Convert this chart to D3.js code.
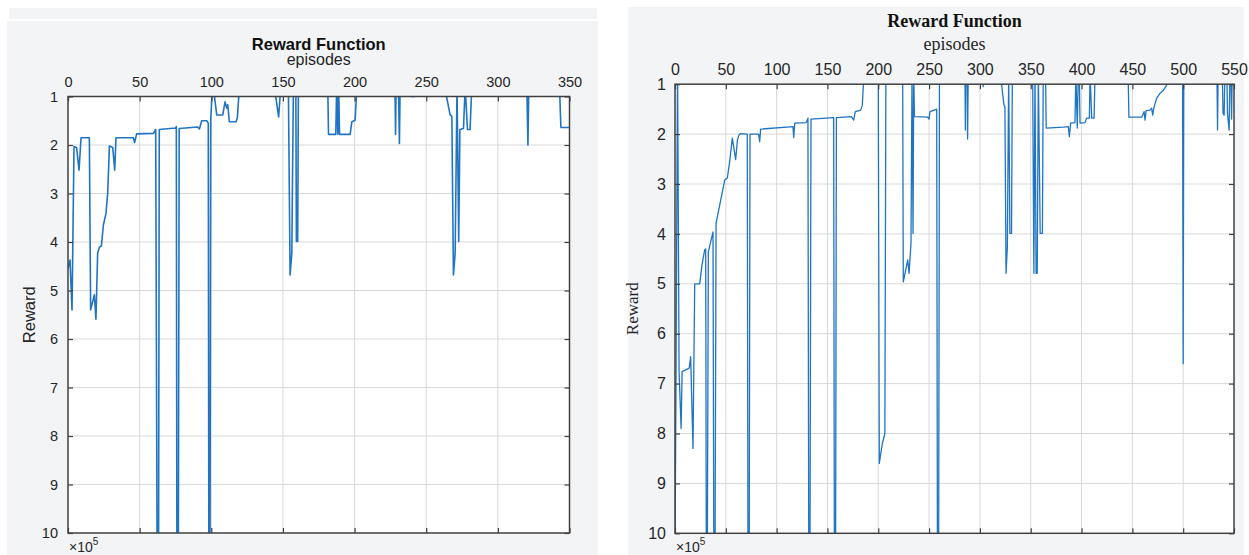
<!DOCTYPE html>
<html lang="en">

<head>
    <meta charset="utf-8">
    <title>Reward Function</title>
    <script type="text/javascript" src="https://d3js.org/d3.v7.min.js"></script>
    <style>
        body {
            margin: 0;
            background: white;
        }

        .tick text {
            fill: #262626;
        }
    </style>
</head>

<body>
    <div id="charts"></div>
    <script type="text/javascript">
        const width = 1249;
        const height = 555;

        // reward data, [episode, reward (x1e5)]
        const leftSeries = [
            [0, 4.54], [1.4, 4.37], [2.8, 5.40], [4.2, 2.03], [6.0, 2.05], [7.7, 2.52], [9.1, 1.85],
            [14.9, 1.85], [15.8, 5.40], [18.4, 5.09], [19.5, 5.59], [20.7, 4.23], [21.9, 4.11],
            [23.3, 4.08], [24.7, 3.65], [26.5, 3.41], [27.7, 3.0], [28.9, 2.02], [31.2, 2.05],
            [32.6, 2.52], [33.5, 1.85], [45.6, 1.85], [46.5, 1.95], [47.9, 1.77], [59.6, 1.76],
            [61.2, 1.68], [62.2, 10.5], [63.2, 10.5], [63.7, 1.68], [75.2, 1.65], [75.6, 1.62],
            [76.0, 10.5], [77.0, 10.5], [77.6, 1.66], [90.5, 1.63], [91.7, 1.67], [93.3, 1.50],
            [96.8, 1.50], [97.9, 1.55], [98.3, 10.5], [99.1, 10.5], [99.6, 1.48], [100.8, 0.8],
            [101.4, 0.8], [103.8, 1.38], [108, 1.38], [109.6, 1.11], [110.8, 1.24], [111.5, 1.17],
            [112.6, 1.52], [117.3, 1.52], [118.2, 1.44], [119.6, 0.8], [144, 0.8], [147, 1.42],
            [148.5, 0.8], [153.8, 0.8], [155, 4.68], [156.2, 4.23], [157.3, 0.8], [159, 0.8],
            [159.4, 3.99], [160.3, 3.99], [160.8, 0.8], [181.3, 0.8], [181.8, 1.78], [186.9, 1.78],
            [187.5, 0.8], [188.3, 1.78], [188.9, 0.8], [189.5, 1.78], [196.9, 1.78], [198.1, 1.52],
            [200.4, 1.49], [201.6, 0.8], [228.2, 0.8], [228.6, 1.78], [229, 0.8], [230.6, 0.8],
            [231.3, 1.97], [231.8, 0.8], [239, 0.8], [239.5, 1.0], [242, 1.0], [242.5, 0.8],
            [263.5, 0.9], [266.7, 1.38], [267.9, 1.41], [269, 4.68], [270.2, 4.23], [271.5, 0.8],
            [272.7, 3.99], [273.5, 1.68], [276, 1.66], [277.2, 0.8], [278.8, 1.68], [280.6, 1.68],
            [281.8, 0.8], [320.2, 0.8], [321, 2.0], [321.6, 0.8], [343, 0.8], [344, 1.64], [350, 1.64]
        ];

        const rightSeries = [
            [0, 10.5], [1, 6.95], [2.5, 0.5], [4, 6.75], [6, 7.9], [7, 6.76], [14, 6.69], [15.4, 6.46],
            [17.7, 8.30], [19.4, 5.0], [24.3, 5.0], [26.6, 4.62], [29.2, 4.32], [30.2, 4.3],
            [30.8, 10.5], [31.8, 10.5], [32.8, 4.36], [37.4, 3.96], [38.2, 10.5], [39.4, 10.5],
            [40.4, 3.79], [48.9, 2.92], [51.5, 2.88], [53.8, 2.55], [56.4, 2.08], [59.7, 2.51],
            [61.4, 2.12], [63, 2.02], [64.6, 1.99], [71.1, 2.0], [71.8, 10.5], [73, 10.5],
            [73.8, 2.0], [82.3, 2.0], [83.3, 2.15], [84.3, 1.9], [116.1, 1.85], [116.8, 2.07],
            [117.8, 1.78], [129.2, 1.77], [130.8, 1.68], [131.6, 10.5], [132.8, 10.5], [133.8, 1.7],
            [156.1, 1.67], [156.8, 10.5], [158, 10.5], [158.8, 1.67], [173.5, 1.65], [175.8, 1.72],
            [177.4, 1.55], [182.7, 1.52], [184.3, 1.42], [185.6, 0.9], [186, 0.8], [200, 0.8],
            [201, 8.6], [204, 8.2], [206.5, 8.0], [207.5, 0.8], [224, 0.8], [224.6, 4.96],
            [229, 4.52], [230.3, 4.79], [232.2, 4.19], [233.2, 0.8], [234.2, 3.99], [234.9, 0.8],
            [235.6, 1.65], [248.6, 1.66], [249.9, 1.7], [250.9, 1.55], [257.5, 1.5], [258.2, 10.5],
            [259.4, 10.5], [260.2, 0.8], [285.3, 0.8], [285.7, 1.92], [286.1, 0.8], [287.4, 0.8],
            [287.9, 2.1], [288.5, 0.8], [302.8, 0.8], [303.2, 1.05], [303.6, 0.8], [320.7, 0.9],
            [323.7, 1.42], [324.6, 1.45], [325.7, 4.79], [327, 4.26], [328.3, 0.8], [329.5, 3.99],
            [331.1, 3.99], [331.9, 0.8], [351.9, 0.8], [353.1, 4.79], [354.2, 0.8], [355.3, 4.79],
            [356.4, 4.79], [357.5, 0.8], [359.3, 3.99], [361.5, 3.99], [362.3, 0.8], [364.6, 0.8],
            [365.2, 1.88], [382, 1.86], [387, 1.85], [388, 2.05], [389.3, 1.78], [393.5, 1.77],
            [394.4, 0.8], [395.8, 1.88], [396.8, 0.8], [397.8, 0.8], [398.5, 1.78], [403.4, 1.77],
            [405, 1.68], [407.7, 1.68], [408.4, 0.8], [410, 1.68], [412.3, 1.68], [413.3, 0.8],
            [445.8, 0.8], [446.6, 1.66], [459.2, 1.66], [461.5, 1.55], [462.5, 1.72], [463.5, 1.53],
            [467.3, 1.52], [469, 1.48], [470, 1.62], [471.3, 1.46], [474, 1.28], [477.3, 1.18],
            [480.6, 1.12], [483.1, 1.04], [485.4, 0.95], [486, 0.8], [499.4, 0.8], [500, 6.6],
            [500.6, 0.8], [533.2, 0.8], [533.8, 1.92], [534.4, 0.8], [538.5, 0.8], [539.2, 1.58],
            [540.3, 1.62], [541, 0.8], [543, 0.8], [543.6, 1.6], [545.2, 1.92], [546, 0.8],
            [547, 0.8], [547.6, 1.7], [548.2, 0.8]
        ];

        const leftXTicks = [0, 50, 100, 150, 200, 250, 300, 350];
        const rightXTicks = [0, 50, 100, 150, 200, 250, 300, 350, 400, 450, 500, 550];
        const yTicks = [1, 2, 3, 4, 5, 6, 7, 8, 9, 10];

        const svg = d3.select("#charts")
            .append("svg")
            .attr("width", width)
            .attr("height", height);

        function plotReward(cfg) {
            const g = svg.append("g");

            // figure background
            g.append("rect")
                .attr("x", cfg.panel[0]).attr("y", cfg.panel[1])
                .attr("width", cfg.panel[2]).attr("height", cfg.panel[3])
                .attr("fill", "#f2f4f6");

            const x = d3.scaleLinear()
                .domain([0, cfg.xMax])
                .range([cfg.left, cfg.right]);
            const y = d3.scaleLinear()
                .domain([1, 10])
                .range([cfg.top, cfg.bottom]);

            // plot area
            g.append("rect")
                .attr("x", cfg.left).attr("y", cfg.top)
                .attr("width", cfg.right - cfg.left).attr("height", cfg.bottom - cfg.top)
                .attr("fill", "white");

            // grid
            g.append("g").selectAll("line")
                .data(cfg.xTicks.filter(d => d > 0 && d < cfg.xMax))
                .join("line")
                .attr("x1", d => x(d)).attr("x2", d => x(d))
                .attr("y1", cfg.top).attr("y2", cfg.bottom)
                .attr("stroke", "#d9d9d9").attr("stroke-width", 1);
            g.append("g").selectAll("line")
                .data(yTicks.slice(1, -1))
                .join("line")
                .attr("x1", cfg.left).attr("x2", cfg.right)
                .attr("y1", d => y(d)).attr("y2", d => y(d))
                .attr("stroke", "#d9d9d9").attr("stroke-width", 1);

            // line, clipped to the axes
            const clipId = "clip-" + cfg.name;
            g.append("clipPath").attr("id", clipId)
                .append("rect")
                .attr("x", cfg.left).attr("y", cfg.top)
                .attr("width", cfg.right - cfg.left).attr("height", cfg.bottom - cfg.top);

            const line = d3.line()
                .x(d => x(d[0]))
                .y(d => y(d[1]));

            g.append("path")
                .datum(cfg.data)
                .attr("clip-path", `url(#${clipId})`)
                .attr("fill", "none")
                .attr("stroke", "#1f74c4")
                .attr("stroke-width", cfg.lineWidth)
                .attr("stroke-linejoin", "round")
                .attr("d", line);

            // axes (ticks point inwards like matlab)
            const xTop = d3.axisTop(x).tickValues(cfg.xTicks)
                .tickSizeInner(-5).tickSizeOuter(0).tickPadding(cfg.xPad);
            const xBottom = d3.axisBottom(x).tickValues(cfg.xTicks)
                .tickSizeInner(-5).tickSizeOuter(0).tickFormat("");
            const yLeft = d3.axisLeft(y).tickValues(yTicks)
                .tickSizeInner(-5).tickSizeOuter(0).tickPadding(cfg.yPad);
            const yRight = d3.axisRight(y).tickValues(yTicks)
                .tickSizeInner(-5).tickSizeOuter(0).tickFormat("");

            const axes = [
                [xTop, `translate(0,${cfg.top})`],
                [xBottom, `translate(0,${cfg.bottom})`],
                [yLeft, `translate(${cfg.left},0)`],
                [yRight, `translate(${cfg.right},0)`]
            ];
            axes.forEach(([ax, tr]) => {
                const a = g.append("g")
                    .attr("transform", tr)
                    .call(ax);
                a.select(".domain").remove();
                a.selectAll(".tick line").attr("stroke", "#404040").attr("stroke-width", 1.2);
                a.selectAll(".tick text")
                    .attr("font-family", "'Liberation Sans', Arial, sans-serif")
                    .attr("font-size", cfg.tickSize);
            });

            // box
            g.append("rect")
                .attr("x", cfg.left).attr("y", cfg.top)
                .attr("width", cfg.right - cfg.left).attr("height", cfg.bottom - cfg.top)
                .attr("fill", "none")
                .attr("stroke", "#404040")
                .attr("stroke-width", 1.5);

            const mid = (cfg.left + cfg.right) / 2;

            // titles
            g.append("text")
                .attr("x", mid).attr("y", cfg.titleY)
                .attr("text-anchor", "middle")
                .attr("font-family", cfg.labelFont)
                .attr("font-size", cfg.titleSize)
                .attr("font-weight", "bold")
                .attr("fill", "#111")
                .text("Reward Function");
            g.append("text")
                .attr("x", mid).attr("y", cfg.xLabelY)
                .attr("text-anchor", "middle")
                .attr("font-family", cfg.labelFont)
                .attr("font-size", cfg.labelSize)
                .attr("fill", "#262626")
                .text("episodes");

            g.append("text")
                .attr("transform", `translate(${cfg.yLabelX},${(cfg.top + cfg.bottom) / 2}) rotate(-90)`)
                .attr("text-anchor", "middle")
                .attr("font-family", cfg.labelFont)
                .attr("font-size", cfg.yLabelSize)
                .attr("fill", "#262626")
                .text("Reward");

            // exponent note under the axis
            const ex = g.append("text")
                .attr("x", cfg.left + 1).attr("y", cfg.bottom + 19)
                .attr("font-family", "'Liberation Sans', Arial, sans-serif")
                .attr("font-size", 14)
                .attr("fill", "#262626");
            ex.append("tspan").text("×10");
            ex.append("tspan").attr("dy", -7).attr("font-size", 10).text("5");
        }

        plotReward({
            name: "left",
            data: leftSeries,
            xTicks: leftXTicks,
            xMax: 350,
            panel: [7, 21, 591, 534],
            left: 68, right: 569.5, top: 96.5, bottom: 533,
            lineWidth: 1.6,
            tickSize: 14.5, xPad: 10, yPad: 10,
            labelFont: "'Liberation Sans', Arial, sans-serif",
            titleSize: 16.5, labelSize: 16, yLabelSize: 16.5,
            titleY: 50, xLabelY: 65, yLabelX: 35
        });

        plotReward({
            name: "right",
            data: rightSeries,
            xTicks: rightXTicks,
            xMax: 550,
            panel: [628, 7, 616, 548],
            left: 675, right: 1234, top: 84.2, bottom: 533.3,
            lineWidth: 1.3,
            tickSize: 16, xPad: 9, yPad: 9,
            labelFont: "'Liberation Serif', 'Times New Roman', serif",
            titleSize: 18, labelSize: 18, yLabelSize: 17,
            titleY: 27, xLabelY: 50, yLabelX: 638
        });

        // thin strip above the left figure
        svg.append("rect")
            .attr("x", 9).attr("y", 8)
            .attr("width", 588).attr("height", 11)
            .attr("fill", "#f2f4f6");
    </script>
</body>

</html>
